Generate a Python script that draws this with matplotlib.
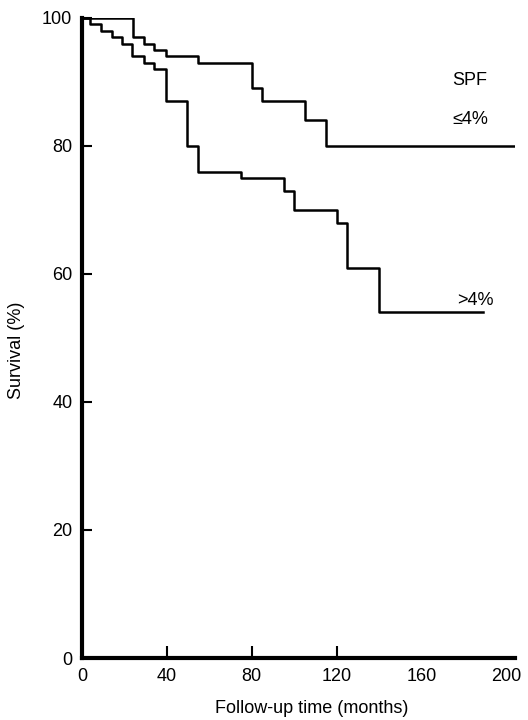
import matplotlib
matplotlib.use("Agg")
import matplotlib.pyplot as plt
import numpy as np

plt.rcParams['font.family'] = ['Liberation Sans', 'DejaVu Sans']

# survival curves (months, % surviving after each step)
low_t = [0, 24, 29, 34, 39.5, 54.6, 80, 84.7, 105, 115, 204]
low_s = [100, 97, 96, 95, 94, 93, 89, 87, 84, 80, 80]
high_t = [0, 4, 9, 14, 19, 23.5, 29, 34, 39.5, 49.5, 54.5, 75, 95, 100, 120, 125, 140, 189]
high_s = [100, 99, 98, 97, 96, 94, 93, 92, 87, 80, 76, 75, 73, 70, 68, 61, 54, 54]

x_ticks = [0, 40, 80, 120, 160, 200]
y_ticks = [0, 20, 40, 60, 80, 100]

fs = 13

fig = plt.figure(figsize=(5.28, 7.2), dpi=100)
ax = fig.add_axes([0.1553, 0.0861, 0.8201, 0.889])

ax.step(low_t, low_s, where='post', color='black', lw=1.8)
ax.step(high_t, high_s, where='post', color='black', lw=1.8)

ax.text(174.6, 90.2, 'SPF', fontsize=fs, va='center', ha='left')
ax.text(174.6, 84.1, '\u22644%', fontsize=fs, va='center', ha='left')
ax.text(176.5, 55.8, '>4%', fontsize=fs, va='center', ha='left')

ax.set_xlim(0, 204)
ax.set_ylim(0, 100)
ax.set_xticks(x_ticks)
ax.set_yticks(y_ticks)
ax.tick_params(axis='both', direction='in', labelsize=fs, width=1.5, color='black')
ax.tick_params(axis='x', length=9, pad=7)
ax.tick_params(axis='y', length=7, pad=7)
for t in ax.xaxis.get_major_ticks()[4:]:
    t.tick1line.set_visible(False)

for s in ['top', 'right']:
    ax.spines[s].set_visible(False)
for s in ['left', 'bottom']:
    ax.spines[s].set_linewidth(3)

ax.set_xlabel('Follow-up time (months)', fontsize=fs)
ax.set_ylabel('Survival (%)', fontsize=fs)
ax.xaxis.set_label_coords(0.531, -0.066)
ax.yaxis.set_label_coords(-0.132, 0.48)

fig.savefig('out.png', dpi=100)
